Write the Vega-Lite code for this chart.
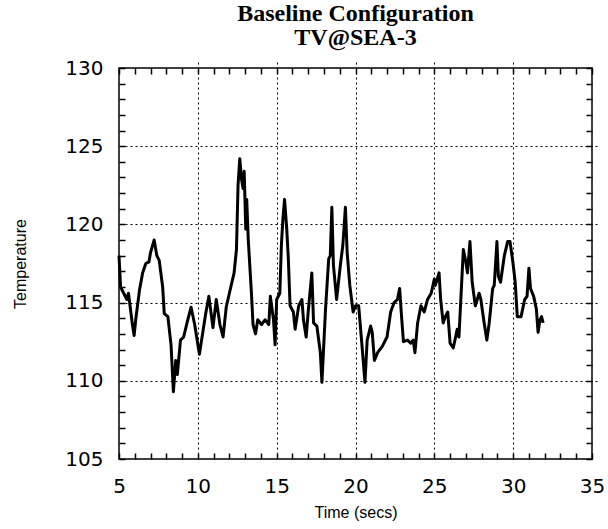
{
  "$schema": "https://vega.github.io/schema/vega-lite/v6.json",
  "width": 473,
  "height": 391,
  "autosize": "none",
  "padding": {"left": 119, "top": 68, "right": 16, "bottom": 70},
  "background": "white",
  "title": {
    "text": ["Baseline Configuration", "TV@SEA-3"],
    "font": "Liberation Serif",
    "fontSize": 24,
    "fontWeight": "bold",
    "color": "black",
    "lineHeight": 24,
    "offset": 8,
    "anchor": "middle"
  },
  "config": {
    "view": {"stroke": "black", "strokeWidth": 1.5},
    "axis": {
      "domain": false,
      "ticks": true,
      "labelFont": "DejaVu Sans",
      "labelFontSize": 20,
      "labelColor": "black",
      "titleFont": "Liberation Sans",
      "titleFontWeight": "normal",
      "titleColor": "#000000",
      "titleFontSize": 16,
      "tickColor": "black",
      "tickOpacity": 1,
      "tickWidth": 1.5,
      "tickSize": 6,
      "offset": -6,
      "labelOverlap": false,
      "labelFlush": false,
      "labelBound": false,
      "gridColor": "black",
      "gridDash": [2, 3],
      "gridWidth": 1
    }
  },
  "data": {
    "values": [
      {"t":5.0,"temp":118.0},{"t":5.1,"temp":116.0},{"t":5.3,"temp":115.6},{"t":5.5,"temp":115.2},{"t":5.6,"temp":115.6},{"t":5.85,"temp":113.6},{"t":5.96,"temp":112.9},{"t":6.06,"temp":113.9},{"t":6.3,"temp":115.8},{"t":6.5,"temp":116.9},{"t":6.7,"temp":117.5},{"t":6.9,"temp":117.6},{"t":7.0,"temp":118.2},{"t":7.23,"temp":119.0},{"t":7.4,"temp":118.0},{"t":7.55,"temp":117.7},{"t":7.77,"temp":116.0},{"t":7.87,"temp":114.3},{"t":8.1,"temp":114.1},{"t":8.3,"temp":112.3},{"t":8.45,"temp":109.3},{"t":8.6,"temp":111.3},{"t":8.7,"temp":110.4},{"t":8.9,"temp":112.6},{"t":9.1,"temp":112.8},{"t":9.36,"temp":113.9},{"t":9.57,"temp":114.7},{"t":9.8,"temp":113.6},{"t":10.1,"temp":111.7},{"t":10.3,"temp":113.0},{"t":10.5,"temp":114.3},{"t":10.7,"temp":115.4},{"t":10.96,"temp":113.4},{"t":11.17,"temp":115.2},{"t":11.4,"temp":113.6},{"t":11.6,"temp":112.8},{"t":11.8,"temp":114.7},{"t":12.0,"temp":115.6},{"t":12.3,"temp":116.9},{"t":12.45,"temp":118.4},{"t":12.55,"temp":122.5},{"t":12.66,"temp":124.2},{"t":12.77,"temp":122.9},{"t":12.87,"temp":122.3},{"t":12.94,"temp":123.4},{"t":13.04,"temp":119.7},{"t":13.1,"temp":121.6},{"t":13.2,"temp":119.0},{"t":13.4,"temp":115.6},{"t":13.5,"temp":113.6},{"t":13.66,"temp":113.0},{"t":13.8,"temp":113.9},{"t":14.04,"temp":113.6},{"t":14.26,"temp":113.9},{"t":14.5,"temp":113.6},{"t":14.6,"temp":115.4},{"t":14.8,"temp":113.9},{"t":14.9,"temp":112.3},
      {"t":15.0,"temp":115.2},{"t":15.2,"temp":115.6},{"t":15.3,"temp":118.7},{"t":15.4,"temp":120.4},{"t":15.5,"temp":121.6},{"t":15.64,"temp":119.7},{"t":15.74,"temp":117.8},{"t":15.85,"temp":114.8},{"t":16.06,"temp":114.4},{"t":16.17,"temp":113.3},{"t":16.4,"temp":114.8},{"t":16.6,"temp":115.2},{"t":16.7,"temp":113.9},{"t":16.87,"temp":112.8},{"t":17.0,"temp":114.4},{"t":17.23,"temp":116.9},{"t":17.34,"temp":113.7},{"t":17.55,"temp":113.5},{"t":17.77,"temp":111.8},{"t":17.87,"temp":109.9},{"t":18.1,"temp":114.6},{"t":18.3,"temp":117.8},{"t":18.4,"temp":118.0},{"t":18.5,"temp":121.1},{"t":18.6,"temp":117.4},{"t":18.8,"temp":115.2},{"t":19.04,"temp":117.4},{"t":19.2,"temp":118.7},{"t":19.36,"temp":121.1},{"t":19.47,"temp":118.2},{"t":19.64,"temp":116.1},{"t":19.85,"temp":114.4},{"t":20.0,"temp":114.8},{"t":20.2,"temp":114.8},{"t":20.4,"temp":112.4},{"t":20.6,"temp":109.9},{"t":20.74,"temp":112.6},{"t":20.96,"temp":113.5},{"t":21.06,"temp":113.1},{"t":21.2,"temp":111.3},{"t":21.4,"temp":111.8},{"t":21.7,"temp":112.2},{"t":22.0,"temp":112.8},{"t":22.23,"temp":114.4},{"t":22.45,"temp":115.0},{"t":22.66,"temp":115.2},{"t":22.8,"temp":115.9},{"t":22.9,"temp":114.4},{"t":23.04,"temp":112.5},{"t":23.3,"temp":112.6},{"t":23.5,"temp":112.4},{"t":23.66,"temp":112.6},{"t":23.77,"temp":111.8},{"t":23.94,"temp":113.7},{"t":24.15,"temp":114.8},{"t":24.36,"temp":114.4},{"t":24.57,"temp":115.2},{"t":24.8,"temp":115.6},{"t":25.0,"temp":116.5},
      {"t":25.06,"temp":116.1},{"t":25.3,"temp":116.9},{"t":25.4,"temp":115.2},{"t":25.56,"temp":113.7},{"t":25.7,"temp":114.1},{"t":25.85,"temp":114.4},{"t":26.0,"temp":112.4},{"t":26.2,"temp":112.1},{"t":26.35,"temp":112.8},{"t":26.45,"temp":113.3},{"t":26.56,"temp":112.8},{"t":26.67,"temp":115.0},{"t":26.84,"temp":118.4},{"t":27.0,"temp":117.6},{"t":27.1,"temp":116.9},{"t":27.26,"temp":118.9},{"t":27.4,"temp":116.3},{"t":27.6,"temp":114.8},{"t":27.84,"temp":115.6},{"t":27.95,"temp":115.2},{"t":28.16,"temp":113.7},{"t":28.33,"temp":112.6},{"t":28.48,"temp":113.7},{"t":28.7,"temp":115.9},{"t":28.8,"temp":116.1},{"t":28.97,"temp":118.9},{"t":29.06,"temp":116.7},{"t":29.2,"temp":116.3},{"t":29.44,"temp":118.0},{"t":29.65,"temp":118.9},{"t":29.8,"temp":118.9},{"t":29.98,"temp":117.6},{"t":30.13,"temp":116.3},{"t":30.26,"temp":114.1},{"t":30.5,"temp":114.1},{"t":30.73,"temp":115.2},{"t":30.88,"temp":115.4},{"t":31.0,"temp":117.2},{"t":31.1,"temp":115.9},{"t":31.3,"temp":115.4},{"t":31.47,"temp":114.6},{"t":31.58,"temp":113.1},{"t":31.7,"temp":113.9},{"t":31.8,"temp":114.1},{"t":31.9,"temp":113.7}
    ]
  },
  "resolve": {"axis": {"x": "independent", "y": "independent"}},
  "layer": [
    {
      "mark": {"type": "line", "color": "black", "strokeWidth": 3, "strokeJoin": "round"},
      "encoding": {
        "x": {
          "field": "t", "type": "quantitative",
          "scale": {"domain": [5, 35], "nice": false, "zero": false},
          "axis": {
            "orient": "bottom",
            "title": "Time  (secs)",
            "titlePadding": 8,
            "labelPadding": 17,
            "values": [5,6,7,8,9,10,11,12,13,14,15,16,17,18,19,20,21,22,23,24,25,26,27,28,29,30,31,32,33,34,35],
            "labelExpr": "datum.value % 5 === 0 ? datum.label : ''",
            "gridOpacity": {"condition": {"test": "datum.value % 5 === 0 && datum.value > 5 && datum.value < 35", "value": 1}, "value": 0}
          }
        },
        "y": {
          "field": "temp", "type": "quantitative",
          "scale": {"domain": [105, 130], "nice": false, "zero": false},
          "axis": {
            "orient": "left",
            "title": "Temperature",
            "titlePadding": 36,
            "labelPadding": 16,
            "values": [105,106,107,108,109,110,111,112,113,114,115,116,117,118,119,120,121,122,123,124,125,126,127,128,129,130],
            "labelExpr": "datum.value % 5 === 0 ? datum.label : ''",
            "gridOpacity": {"condition": {"test": "datum.value % 5 === 0 && datum.value > 105 && datum.value < 130", "value": 1}, "value": 0}
          }
        }
      }
    },
    {
      "mark": {"type": "line", "opacity": 0},
      "encoding": {
        "x": {
          "field": "t", "type": "quantitative",
          "axis": {
            "orient": "top", "title": null, "labels": false, "grid": false, "ticks": true,
            "values": [5,6,7,8,9,10,11,12,13,14,15,16,17,18,19,20,21,22,23,24,25,26,27,28,29,30,31,32,33,34,35]
          }
        },
        "y": {
          "field": "temp", "type": "quantitative",
          "axis": {
            "orient": "right", "title": null, "labels": false, "grid": false, "ticks": true,
            "values": [105,106,107,108,109,110,111,112,113,114,115,116,117,118,119,120,121,122,123,124,125,126,127,128,129,130]
          }
        }
      }
    }
  ]
}
